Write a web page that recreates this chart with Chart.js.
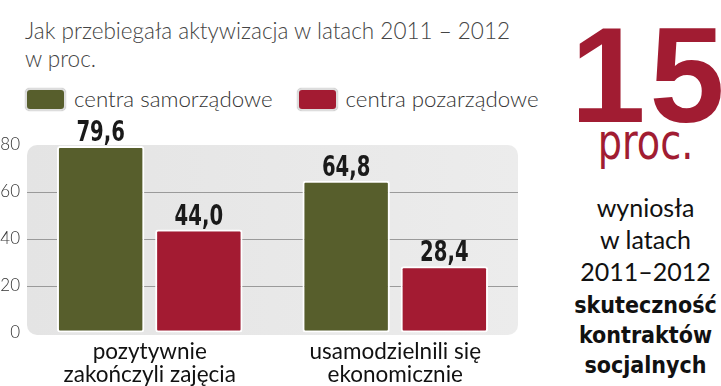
<!DOCTYPE html>
<html>
<head>
<meta charset="utf-8">
<script src="https://cdn.jsdelivr.net/npm/chart.js@4/dist/chart.umd.min.js"></script>
<style>
    body { margin: 0; width: 721px; height: 386px; background: #fff; overflow: hidden; position: relative; font-family: Lato, "Open Sans", sans-serif; }
    #title { position: absolute; left: 25px; top: 17px; font-size: 22.5px; line-height: 28px; color: #444; font-weight: 300; }
    #legend { position: absolute; left: 25px; top: 85px; font-size: 22.3px; color: #333; font-weight: 300; white-space: nowrap; }
    .item { display: inline-block; margin-right: 24px; }
    .box { display: inline-block; width: 37px; height: 19px; border-radius: 5px; border: 2px solid #ddd; vertical-align: -4px; margin-right: 8px; box-shadow: 0 0 1px #999; }
    #chartWrap { position: absolute; left: 0; top: 110px; width: 530px; height: 276px; }
    #side { position: absolute; left: 558px; top: 0; width: 175px; height: 386px; text-align: center; }
    #big { position: absolute; left: 2px; width: 175px; top: 7px; font-size: 135px; line-height: 137px; color: #a11c32; font-weight: bold; letter-spacing: 4px; text-indent: 4px; font-family: "Liberation Sans", sans-serif; }
    #proc { position: absolute; left: 0; width: 175px; top: 120px; font-size: 50px; line-height: 44px; color: #a11c32; font-weight: 300; font-family: "Liberation Sans Narrow", "DejaVu Sans Condensed", sans-serif; transform: scaleX(0.85); }
    #desc { position: absolute; left: 0; width: 175px; top: 191px; }
    .line { font-size: 25px; line-height: 32px; color: #111; }
    .b { font-weight: bold; font-family: "DejaVu Sans Condensed", sans-serif; font-size: 23px; line-height: 30px; }
</style>
</head>
<body>
<div id="title">Jak przebiegała aktywizacja w latach 2011 – 2012<br>w proc.</div>
<div id="legend"></div>
<div id="chartWrap"><canvas id="barChart"></canvas></div>
<div id="side">
    <div id="big">15</div>
    <div id="proc">proc.</div>
    <div id="desc">
        <div class="line">wyniosła</div>
        <div class="line">w latach</div>
        <div class="line" style="margin-bottom: 3px">2011–2012</div>
        <div class="line b">skuteczność</div>
        <div class="line b">kontraktów</div>
        <div class="line b">socjalnych</div>
    </div>
</div>
<script>
const categories = [["pozytywnie", "zakończyli zajęcia"], ["usamodzielnili się", "ekonomicznie"]];
const seriesNames = ["centra samorządowe", "centra pozarządowe"];
const samorzadowe = [79.6, 64.8];
const pozarzadowe = [44.0, 28.4];
const colors = ["#575e2c", "#a31b32"];
const yTicks = [0, 20, 40, 60, 80];

document.getElementById("legend").innerHTML = seriesNames.map((n, i) =>
    `<span class="item"><span class="box" style="background:${colors[i]}"></span>${n}</span>`).join("");

const panelBackground = {
    id: "panelBackground",
    beforeDraw(chart) {
        const { ctx, chartArea: a } = chart;
        const g = ctx.createLinearGradient(a.left, 0, a.right, 0);
        g.addColorStop(0, "#e4e4e4");
        g.addColorStop(1, "#ececec");
        ctx.save();
        ctx.fillStyle = g;
        ctx.beginPath();
        ctx.roundRect(a.left, a.top, a.right - a.left, a.bottom - a.top + 2, 10);
        ctx.fill();
        ctx.restore();
    }
};

// condensed bold numbers above the bars
const valueLabels = {
    id: "valueLabels",
    afterDatasetsDraw(chart) {
        const ctx = chart.ctx;
        chart.data.datasets.forEach((ds, i) => {
            chart.getDatasetMeta(i).data.forEach((bar, j) => {
                ctx.save();
                ctx.translate(bar.x, bar.y - 5);
                ctx.scale(0.78, 1);
                ctx.font = "bold 28px 'DejaVu Sans Condensed', sans-serif";
                ctx.fillStyle = "#1a1a1a";
                ctx.textAlign = "center";
                ctx.textBaseline = "alphabetic";
                ctx.fillText(ds.data[j].toFixed(1).replace(".", ","), 0, 0);
                ctx.restore();
            });
        });
    }
};

new Chart(document.getElementById("barChart"), {
    type: "bar",
    data: {
        labels: categories,
        datasets: [
            { label: seriesNames[0], data: samorzadowe, backgroundColor: colors[0] },
            { label: seriesNames[1], data: pozarzadowe, backgroundColor: colors[1] }
        ]
    },
    options: {
        responsive: true,
        maintainAspectRatio: false,
        animation: false,
        layout: { padding: { top: 35, right: 12, left: 0, bottom: 0 } },
        datasets: {
            bar: {
                categoryPercentage: 0.8,
                barPercentage: 0.89,
                borderColor: "#ffffff",
                borderWidth: 2,
                borderRadius: 3,
                borderSkipped: false
            }
        },
        plugins: {
            legend: { display: false },
            tooltip: { enabled: false }
        },
        scales: {
            x: {
                afterFit: (s) => { s.height = 53; },
                grid: { display: false, drawTicks: false },
                border: { display: false },
                ticks: { color: "#111", font: { size: 22.5, family: "Lato", lineHeight: 1.02 }, padding: 7 }
            },
            y: {
                min: 0,
                max: 80,
                afterBuildTicks: (s) => { s.ticks = yTicks.map(v => ({ value: v })); },
                afterFit: (s) => { s.width = 27; },
                grid: {
                    drawTicks: false,
                    color: (c) => (c.tick.value === 0 || c.tick.value === 80) ? "rgba(0,0,0,0)" : "#9a9a9a"
                },
                border: { display: false },
                ticks: { color: "#333", font: { size: 17, family: "Lato", weight: 300 }, padding: 7 }
            }
        }
    },
    plugins: [panelBackground, valueLabels]
});
</script>
</body>
</html>
